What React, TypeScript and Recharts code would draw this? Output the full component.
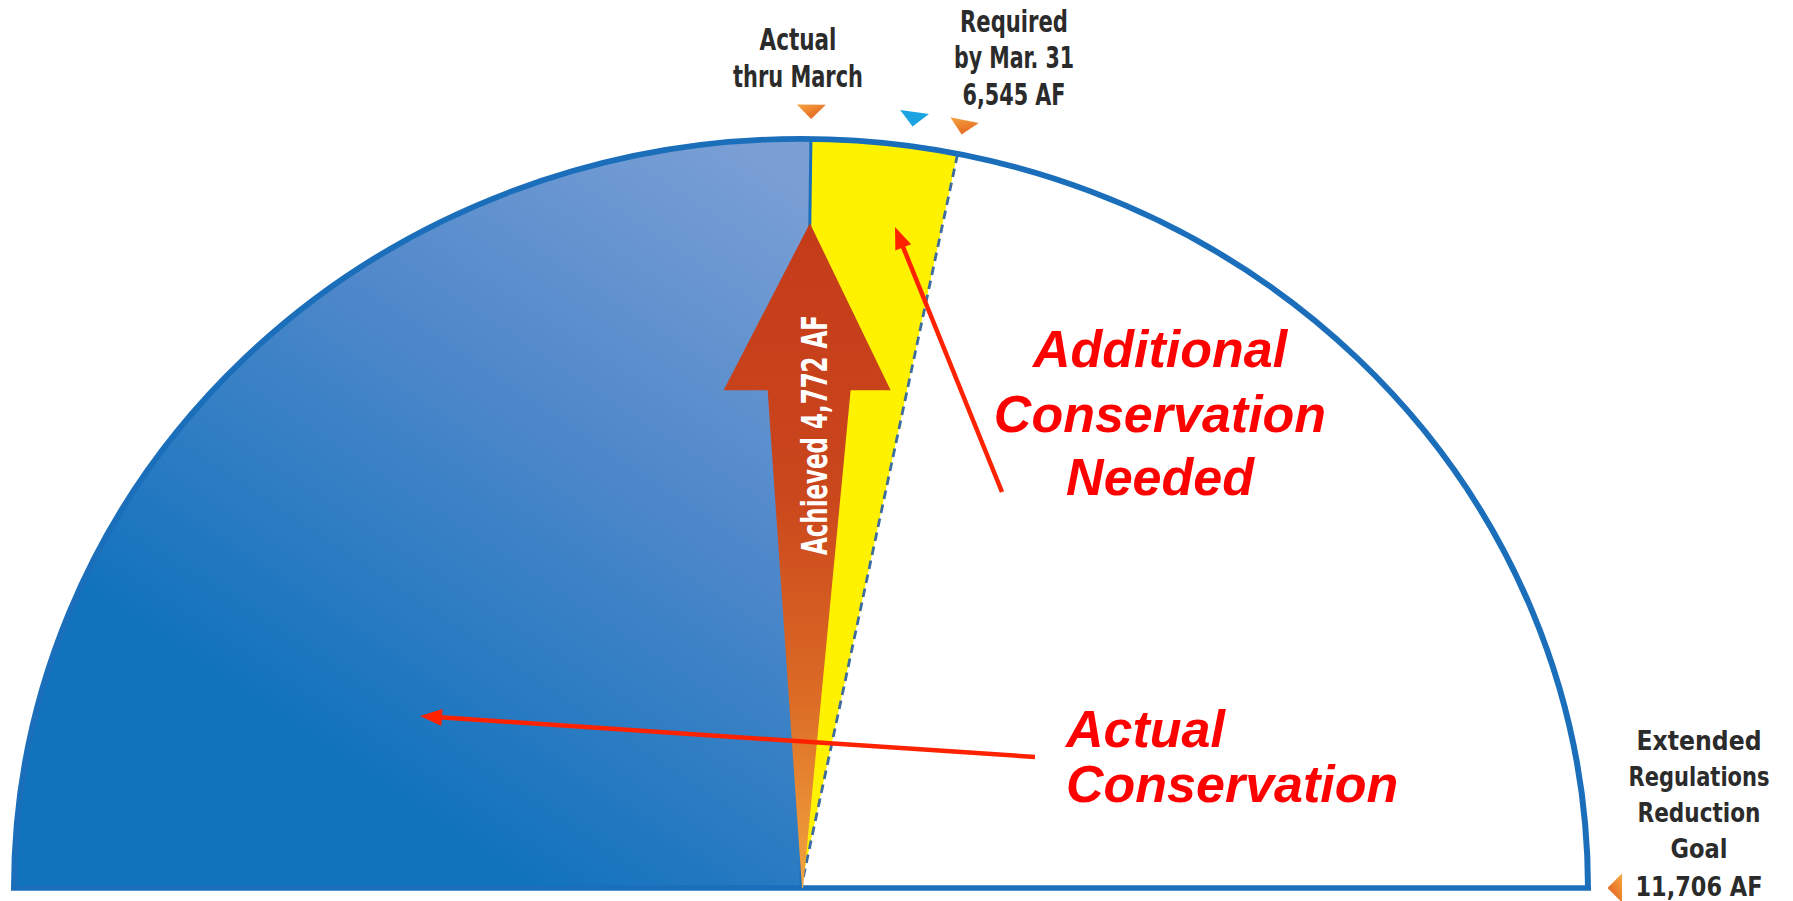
import React from 'react';
import { PieChart, Pie, Cell } from 'recharts';

// positions on the 0 → goal scale, as drawn on the gauge (AF)
const gaugeStops = [5900, 6600, 11706];
const segmentNames = ['Actual Conservation', 'Additional Conservation Needed', 'Remaining to Goal'];

// marker triangles around the rim
const markerValues = [5900, 6370, 6600, 11706];
const markerKinds = ['orange', 'blue', 'orange', 'orange'];

// texts
const actualLabel = ['Actual', 'thru March'];
const requiredLabel = ['Required', 'by Mar. 31', '6,545 AF'];
const goalLabel = ['Extended', 'Regulations', 'Reduction', 'Goal', '11,706 AF'];
const achievedLabel = 'Achieved 4,772 AF';
const neededCallout = ['Additional', 'Conservation', 'Needed'];
const actualCallout = ['Actual', 'Conservation'];

const W = 1793;
const H = 901;
const CX = 801;
const CY = 888;
const RX = 787;
const RY = 749.5;
const SQUASH = RY / RX;
const GOAL = gaugeStops[gaugeStops.length - 1];

const RIM = '#1b6fba';
const DARK = '#2b2b2b';
const RED = '#ff2200';
const condensed = "'Liberation Sans Narrow', 'DejaVu Sans Condensed', 'Roboto', sans-serif";
const arial = "'Liberation Sans', Arial, sans-serif";

const segments = segmentNames.map((name, i) => ({
  name,
  value: gaugeStops[i] - (i ? gaugeStops[i - 1] : 0),
}));
const dashData = [
  { name: 'required', value: gaugeStops[1] },
  { name: 'rest', value: GOAL - gaugeStops[1] },
];
const dividerData = [
  { name: 'actual', value: gaugeStops[0] },
  { name: 'rest', value: GOAL - gaugeStops[0] },
];
const rimData = [{ name: 'goal', value: GOAL }];

// angle (deg) of a value on the half dial, 180 = left end
const angleOf = (v: number) => 180 * (1 - v / GOAL);
const onRim = (deg: number, off: number) => {
  const r = (deg * Math.PI) / 180;
  return { x: CX + (RX + off) * Math.cos(r), y: CY - (RY + off) * Math.sin(r) };
};

const StackText = ({
  lines,
  x,
  ys,
  widths,
  size = 30,
}: {
  lines: string[];
  x: number;
  ys: number[];
  widths: number[];
  size?: number;
}) => (
  <g>
    {lines.map((t, i) => (
      <text
        key={t}
        x={x}
        y={ys[i]}
        textAnchor="middle"
        fontFamily={condensed}
        fontSize={size}
        fontWeight={600}
        fill={DARK}
        textLength={widths[i]}
        lengthAdjust="spacingAndGlyphs"
      >
        {t}
      </text>
    ))}
  </g>
);

const RedArrow = ({ x1, y1, x2, y2 }: { x1: number; y1: number; x2: number; y2: number }) => {
  const len = Math.hypot(x2 - x1, y2 - y1);
  const ux = (x2 - x1) / len;
  const uy = (y2 - y1) / len;
  const hl = 22;
  const hw = 8.5;
  const bx = x2 - ux * hl;
  const by = y2 - uy * hl;
  return (
    <g>
      <line x1={x1} y1={y1} x2={bx + ux * 2} y2={by + uy * 2} stroke={RED} strokeWidth={4.5} />
      <polygon
        points={`${x2},${y2} ${bx - uy * hw},${by + ux * hw} ${bx + uy * hw},${by - ux * hw}`}
        fill={RED}
      />
    </g>
  );
};

const Overlay = () => {
  const a = angleOf(gaugeStops[0]);
  const tip = onRim(a, -RY * 0.113);
  const headY = CY - RY * 0.664;
  const axisX = CX + (tip.x - CX) * ((CY - headY) / (CY - tip.y));

  return (
    <svg width={W} height={H} style={{ position: 'absolute', left: 0, top: 0 }}>
      <defs>
        <linearGradient id="achievedFill" gradientUnits="userSpaceOnUse" x1={0} y1={tip.y} x2={0} y2={CY}>
          <stop offset="0" stopColor="#c43b1a" />
          <stop offset="0.4" stopColor="#ca461c" />
          <stop offset="0.72" stopColor="#dc6c25" />
          <stop offset="1" stopColor="#f2a63f" />
        </linearGradient>
        <linearGradient id="markOrange" x1="0" y1="0" x2="1" y2="1">
          <stop offset="0" stopColor="#f6a640" />
          <stop offset="1" stopColor="#e0581c" />
        </linearGradient>
      </defs>

      {/* achieved arrow */}
      <polygon
        fill="url(#achievedFill)"
        points={[
          [CX + 1, CY],
          [axisX - 40, headY],
          [axisX - 84, headY],
          [tip.x, tip.y],
          [axisX + 83, headY],
          [axisX + 43, headY],
          [CX + 2, CY],
        ]
          .map((p) => p.join(','))
          .join(' ')}
      />
      <text
        transform={`translate(827, 435) rotate(-90)`}
        textAnchor="middle"
        fontFamily={condensed}
        fontSize={36}
        fontWeight={600}
        fill="#ffffff"
        textLength={240}
        lengthAdjust="spacingAndGlyphs"
      >
        {achievedLabel}
      </text>

      {/* rim markers */}
      {markerValues.map((v, i) => {
        const deg = angleOf(v);
        const p = onRim(deg, 27);
        return (
          <polygon
            key={i}
            transform={`translate(${p.x}, ${p.y}) rotate(${90 - deg})`}
            points="-14.5,-7 14.5,-7 0,7.5"
            fill={markerKinds[i] === 'blue' ? '#1aa3e0' : 'url(#markOrange)'}
          />
        );
      })}

      <StackText lines={actualLabel} x={798} ys={[50, 87]} widths={[77, 130]} />
      <StackText lines={requiredLabel} x={1014} ys={[32, 68, 105]} widths={[108, 120, 103]} />
      <StackText
        lines={goalLabel}
        x={1699}
        ys={[750, 786, 822, 858, 896]}
        widths={[125, 141, 123, 57, 127]}
        size={27}
      />

      <RedArrow x1={1002} y1={492} x2={895} y2={227} />
      <RedArrow x1={1035} y1={757} x2={420} y2={716} />

      {neededCallout.map((t, i) => (
        <text
          key={t}
          x={1160}
          y={[367, 432, 495][i]}
          textAnchor="middle"
          fontFamily={arial}
          fontSize={52}
          fontWeight={700}
          fontStyle="italic"
          fill="#ff0000"
        >
          {t}
        </text>
      ))}
      {actualCallout.map((t, i) => (
        <text
          key={t}
          x={1066}
          y={[747, 802][i]}
          fontFamily={arial}
          fontSize={52}
          fontWeight={700}
          fontStyle="italic"
          fill="#ff0000"
        >
          {t}
        </text>
      ))}
    </svg>
  );
};

export default function App() {
  return (
    <div style={{ position: 'absolute', left: 0, top: 0, width: W, height: H, background: '#fff', overflow: 'hidden' }}>
      <svg width={0} height={0} style={{ position: 'absolute' }}>
        <defs>
          <linearGradient id="actualFill" x1="0.9" y1="0" x2="0.35" y2="0.78">
            <stop offset="0" stopColor="#7a9fd5" />
            <stop offset="0.45" stopColor="#4f88ca" />
            <stop offset="1" stopColor="#1273bd" />
          </linearGradient>
        </defs>
      </svg>

      {/* the dial is a circle squashed into the drawn half-ellipse */}
      <div
        style={{
          position: 'absolute',
          left: 0,
          top: 0,
          width: W,
          height: H,
          transform: `scaleY(${SQUASH})`,
          transformOrigin: `0px ${CY}px`,
        }}
      >
        <PieChart width={W} height={H} margin={{ top: 0, right: 0, bottom: 0, left: 0 }}>
          <Pie
            data={segments}
            dataKey="value"
            nameKey="name"
            cx={CX}
            cy={CY}
            innerRadius={0}
            outerRadius={RX}
            startAngle={180}
            endAngle={0}
            stroke="none"
            isAnimationActive={false}
          >
            <Cell fill="url(#actualFill)" />
            <Cell fill="#fff200" />
            <Cell fill="#ffffff" />
          </Pie>
          <Pie
            data={dashData}
            dataKey="value"
            cx={CX}
            cy={CY}
            innerRadius={0}
            outerRadius={RX}
            startAngle={180}
            endAngle={0}
            isAnimationActive={false}
          >
            <Cell fill="none" stroke="#3f6c9f" strokeWidth={2.8} strokeDasharray="9 6" />
            <Cell fill="none" stroke="none" />
          </Pie>
          <Pie
            data={dividerData}
            dataKey="value"
            cx={CX}
            cy={CY}
            innerRadius={0}
            outerRadius={RX}
            startAngle={180}
            endAngle={0}
            isAnimationActive={false}
          >
            <Cell fill="none" stroke={RIM} strokeWidth={3} />
            <Cell fill="none" stroke="none" />
          </Pie>
          <Pie
            data={rimData}
            dataKey="value"
            cx={CX}
            cy={CY}
            innerRadius={0}
            outerRadius={RX}
            startAngle={180}
            endAngle={0}
            fill="none"
            stroke={RIM}
            strokeWidth={6}
            isAnimationActive={false}
          />
        </PieChart>
      </div>

      <Overlay />
    </div>
  );
}
